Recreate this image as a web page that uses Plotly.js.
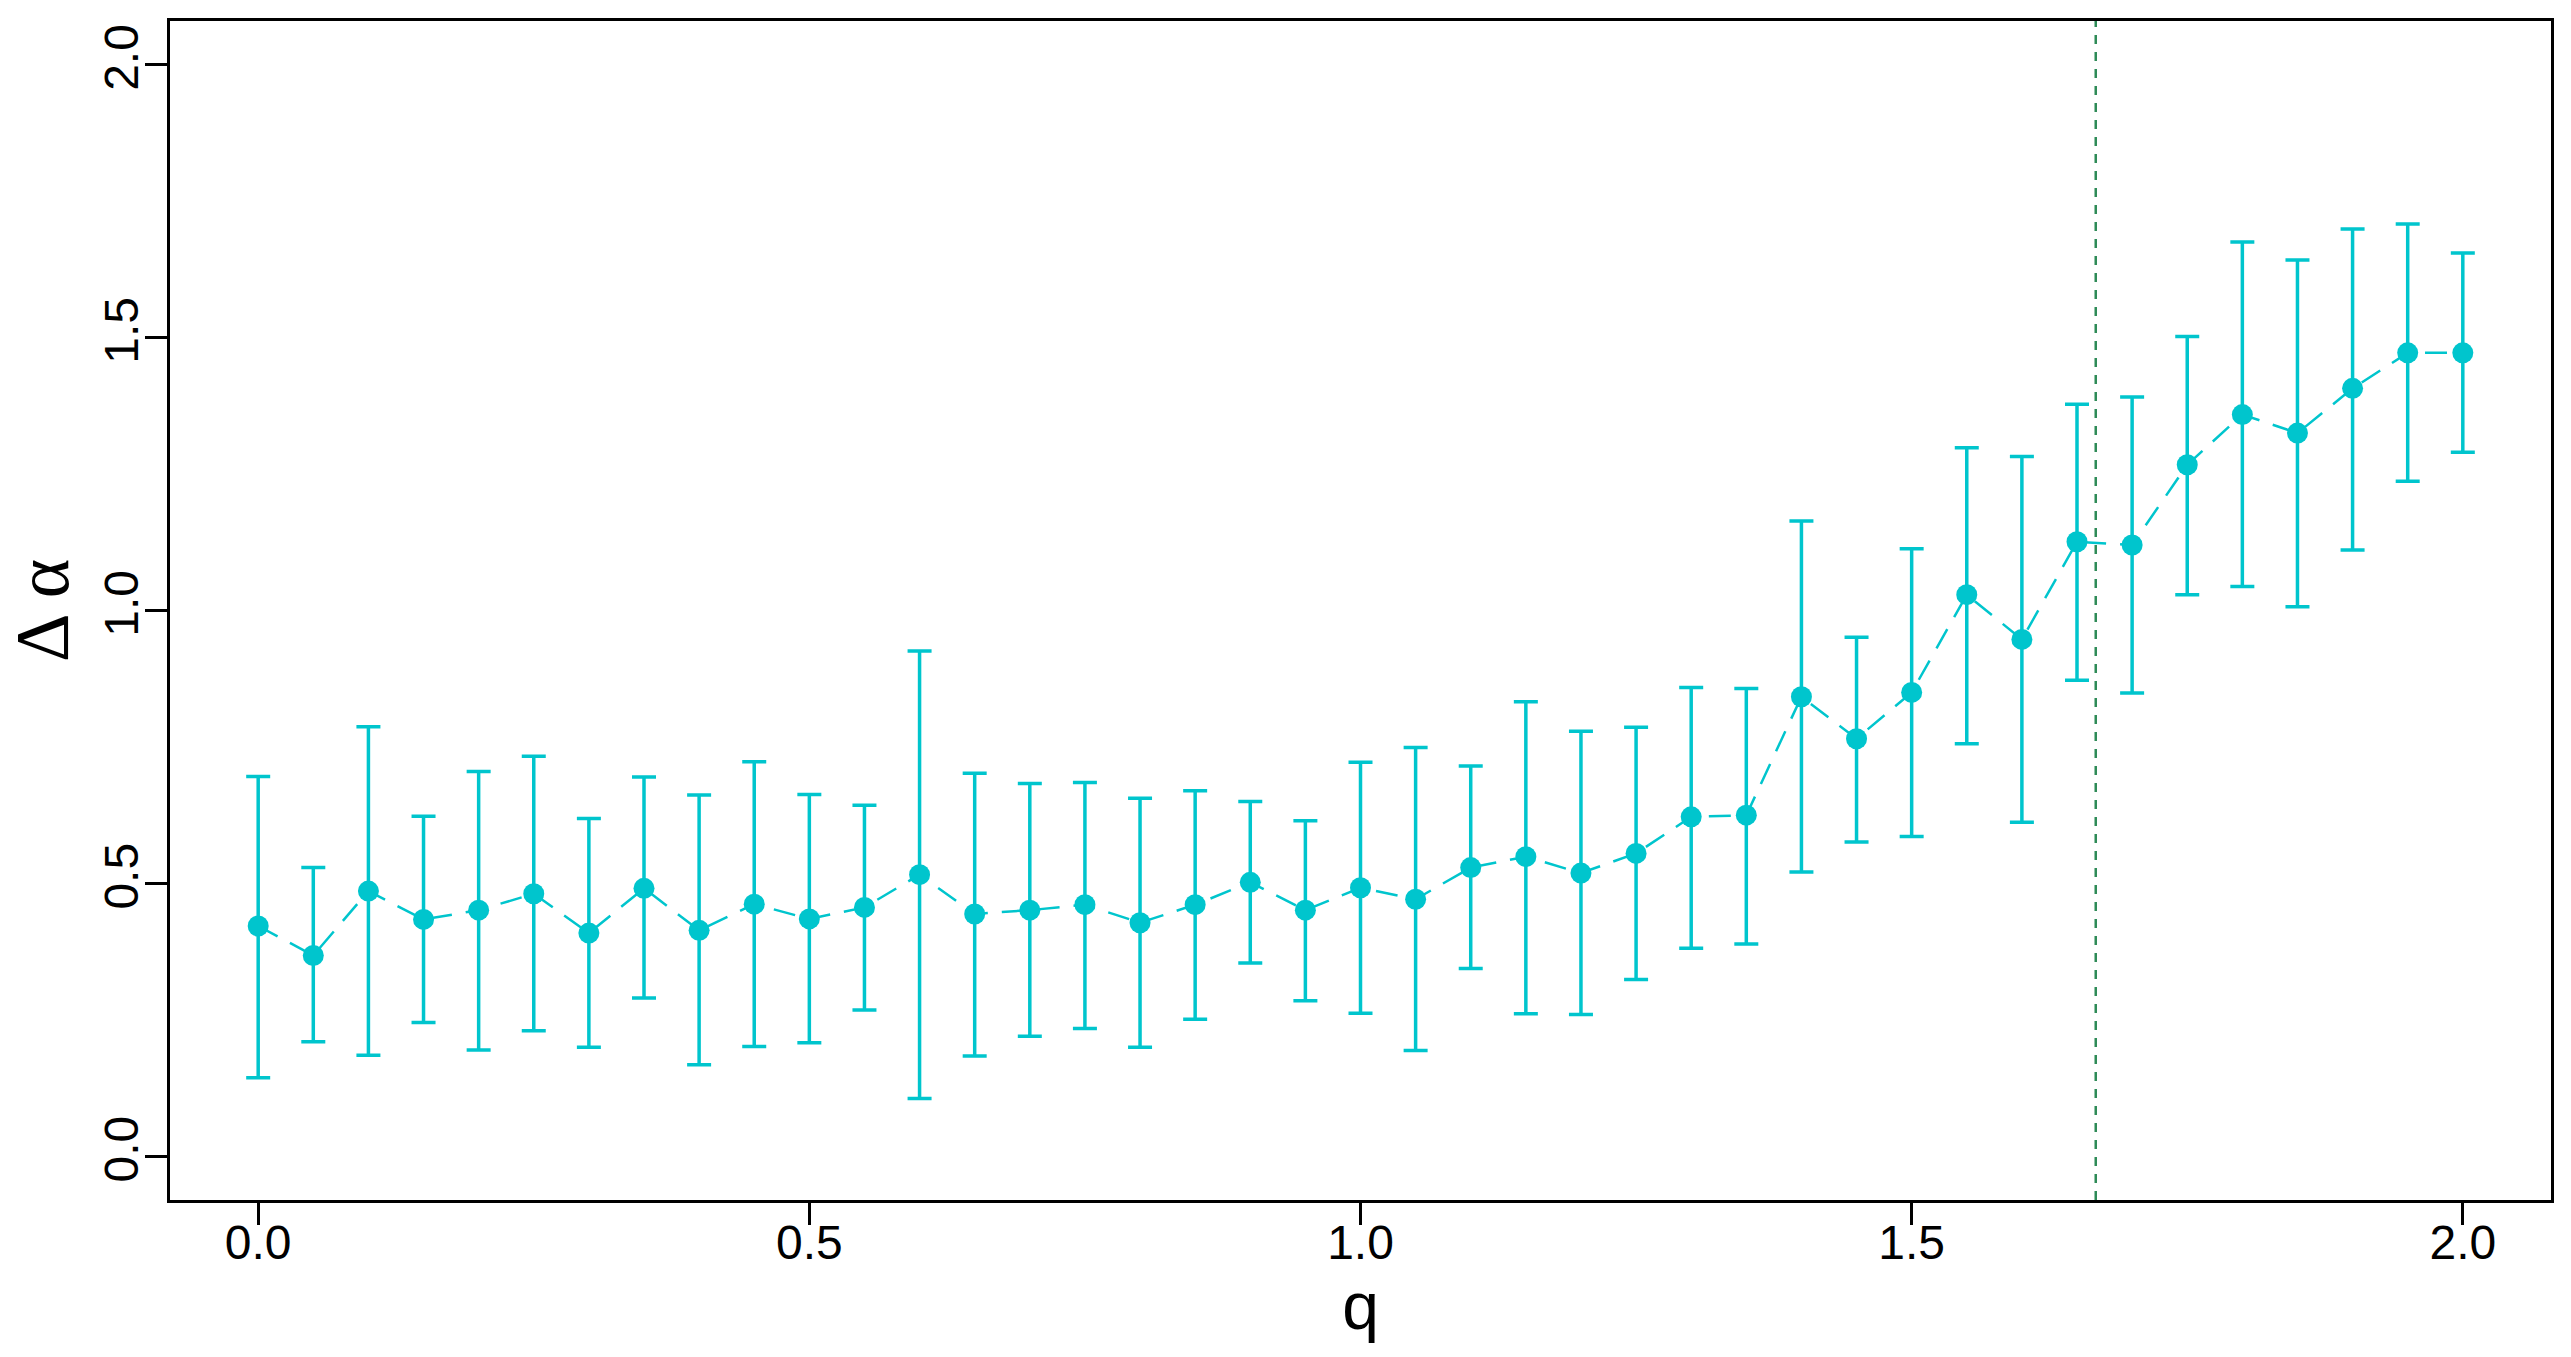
<!DOCTYPE html>
<html>
<head>
<meta charset="utf-8">
<script src="https://cdn.plot.ly/plotly-3.0.1.min.js"></script>
<style>
  html, body { margin: 0; padding: 0; background: #ffffff; }
  #chart { width: 2571px; height: 1357px; }
</style>
</head>
<body>
<div id="chart"></div>
<script>
// ---- data ----
const qValues = [0.00, 0.05, 0.10, 0.15, 0.20, 0.25, 0.30, 0.35, 0.40, 0.45,
                 0.50, 0.55, 0.60, 0.65, 0.70, 0.75, 0.80, 0.85, 0.90, 0.95,
                 1.00, 1.05, 1.10, 1.15, 1.20, 1.25, 1.30, 1.35, 1.40, 1.45,
                 1.50, 1.55, 1.60, 1.65, 1.70, 1.75, 1.80, 1.85, 1.90, 1.95, 2.00];

const deltaAlpha = [0.422, 0.368, 0.486, 0.434, 0.451, 0.481, 0.409, 0.491, 0.414, 0.462,
                    0.435, 0.456, 0.516, 0.444, 0.451, 0.461, 0.428, 0.461, 0.502, 0.451,
                    0.492, 0.471, 0.529, 0.549, 0.519, 0.555, 0.622, 0.625, 0.842, 0.765,
                    0.850, 1.029, 0.947, 1.126, 1.120, 1.267, 1.359, 1.325, 1.407, 1.472, 1.472];

const upperBound = [0.696, 0.529, 0.787, 0.623, 0.705, 0.733, 0.619, 0.695, 0.662, 0.723,
                    0.663, 0.643, 0.926, 0.702, 0.683, 0.685, 0.656, 0.670, 0.650, 0.615,
                    0.722, 0.749, 0.715, 0.833, 0.779, 0.786, 0.859, 0.857, 1.164, 0.951,
                    1.113, 1.298, 1.282, 1.378, 1.391, 1.502, 1.675, 1.642, 1.699, 1.708, 1.655];

const lowerBound = [0.144, 0.210, 0.185, 0.245, 0.195, 0.230, 0.200, 0.290, 0.168, 0.201,
                    0.208, 0.268, 0.106, 0.184, 0.220, 0.234, 0.200, 0.251, 0.354, 0.285,
                    0.262, 0.194, 0.344, 0.261, 0.260, 0.324, 0.381, 0.389, 0.521, 0.576,
                    0.586, 0.756, 0.612, 0.872, 0.849, 1.029, 1.044, 1.007, 1.111, 1.237, 1.290];

const qThreshold = 1.667;

const xTickVals = [0, 0.5, 1, 1.5, 2];
const xTickText = ["0.0", "0.5", "1.0", "1.5", "2.0"];
const yTickVals = [0, 0.5, 1, 1.5, 2];
const yTickText = ["0.0", "0.5", "1.0", "1.5", "2.0"];

// ---- derived error arrays ----
const errPlus = upperBound.map((u, i) => u - deltaAlpha[i]);
const errMinus = lowerBound.map((l, i) => deltaAlpha[i] - l);

const cyan = "#00C5CD";

const trace = {
  x: qValues,
  y: deltaAlpha,
  type: "scatter",
  mode: "lines+markers",
  line: { color: cyan, width: 2.5, dash: "22px,14px" },
  marker: { color: cyan, size: 21, symbol: "circle" },
  error_y: {
    type: "data",
    symmetric: false,
    array: errPlus,
    arrayminus: errMinus,
    color: cyan,
    thickness: 3.5,
    width: 12
  },
  hoverinfo: "x+y",
  showlegend: false
};

const axisFont = { family: "Liberation Sans, Arial, sans-serif", size: 48, color: "#000000" };

const layout = {
  width: 2571,
  height: 1357,
  paper_bgcolor: "#ffffff",
  plot_bgcolor: "#ffffff",
  margin: { l: 170, r: 20, t: 21, b: 157, pad: 0 },
  showlegend: false,
  xaxis: {
    range: [-0.08, 2.08],
    tickmode: "array",
    tickvals: xTickVals,
    ticktext: xTickText,
    ticks: "outside",
    ticklen: 22,
    tickwidth: 3,
    tickcolor: "#000000",
    ticklabelstandoff: -24,
    showline: true,
    linewidth: 3,
    linecolor: "#000000",
    mirror: true,
    showgrid: false,
    zeroline: false,
    tickfont: axisFont,
    title: {
      text: "q",
      font: { family: "Liberation Sans, Arial, sans-serif", size: 66, color: "#000000" },
      standoff: 6
    },
    automargin: false
  },
  yaxis: {
    range: [-0.08, 2.08],
    tickmode: "array",
    tickvals: yTickVals,
    ticktext: yTickText,
    tickangle: -90,
    ticks: "outside",
    ticklen: 22,
    tickwidth: 3,
    tickcolor: "#000000",
    ticklabelstandoff: -12,
    showline: true,
    linewidth: 3,
    linecolor: "#000000",
    mirror: true,
    showgrid: false,
    zeroline: false,
    tickfont: axisFont,
    title: {
      text: "Δ α",
      font: { family: "Liberation Serif, Times New Roman, serif", size: 76, color: "#000000" },
      standoff: 14
    },
    automargin: false
  },
  shapes: [
    {
      type: "line",
      xref: "x",
      yref: "paper",
      x0: qThreshold,
      x1: qThreshold,
      y0: 0,
      y1: 1,
      line: { color: "#2E8B57", width: 2.5, dash: "9px,8px" },
      layer: "below"
    }
  ]
};

Plotly.newPlot("chart", [trace], layout, { displayModeBar: false, staticPlot: true });
</script>
</body>
</html>
